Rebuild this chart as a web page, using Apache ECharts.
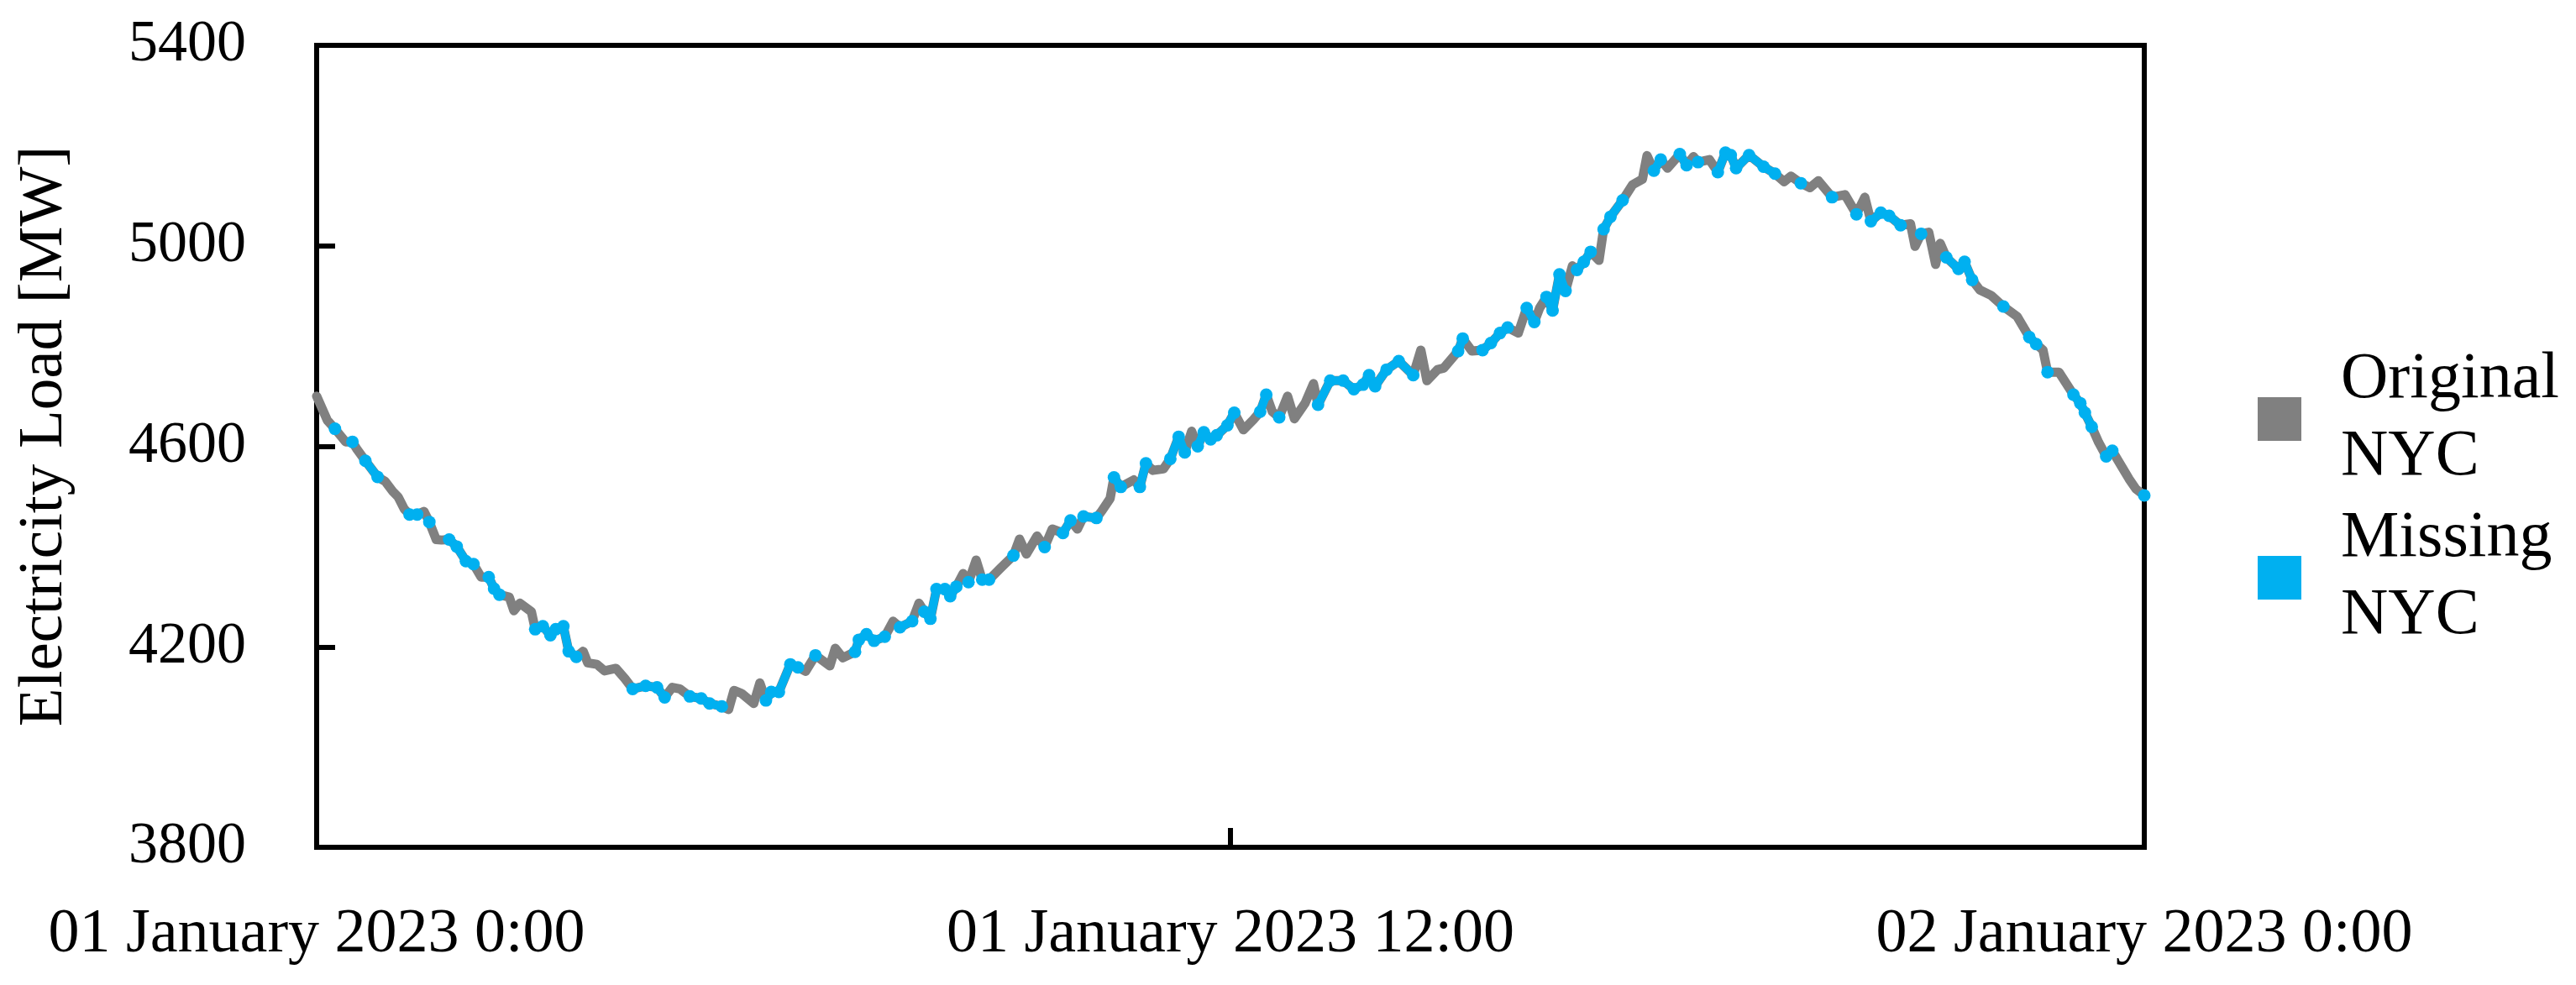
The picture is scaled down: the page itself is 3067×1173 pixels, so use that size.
<!DOCTYPE html>
<html>
<head>
<meta charset="utf-8">
<title>Electricity Load NYC</title>
<script src="https://cdn.jsdelivr.net/npm/echarts@6/dist/echarts.min.js"></script>
<style>
  html, body { margin: 0; padding: 0; background: #fff; }
  #chart { width: 3067px; height: 1173px; }
</style>
</head>
<body>
<div id="chart"></div>
<script>
// time of day in hours (0 = 01 Jan 2023 0:00)
const hours = [
  0.00,0.14,0.24,0.38,0.47,0.53,0.64,0.80,0.90,1.00,
  1.07,1.15,1.22,1.32,1.41,1.48,1.57,1.64,1.74,1.84,
  1.96,2.06,2.16,2.26,2.33,2.40,2.53,2.59,2.67,2.82,
  2.87,2.97,3.07,3.14,3.24,3.31,3.41,3.50,3.56,3.68,
  3.78,3.93,4.05,4.15,4.32,4.47,4.57,4.67,4.77,4.90,
  5.05,5.16,5.32,5.41,5.48,5.58,5.74,5.82,5.90,5.97,
  6.07,6.22,6.32,6.42,6.55,6.74,6.81,6.91,7.07,7.12,
  7.22,7.32,7.46,7.57,7.66,7.82,7.91,7.98,8.06,8.14,
  8.25,8.32,8.40,8.49,8.56,8.66,8.74,8.83,8.98,9.15,
  9.23,9.32,9.46,9.56,9.66,9.80,9.90,9.99,10.07,10.24,
  10.31,10.42,10.47,10.56,10.73,10.81,10.89,10.98,11.12,11.21,
  11.32,11.40,11.49,11.57,11.65,11.74,11.82,11.96,12.05,12.17,
  12.30,12.39,12.47,12.55,12.64,12.75,12.84,12.98,13.09,13.15,
  13.31,13.48,13.62,13.74,13.82,13.90,14.05,14.21,14.40,14.50,
  14.58,14.72,14.80,14.99,15.05,15.17,15.31,15.42,15.54,15.64,
  15.78,15.89,15.99,16.06,16.15,16.23,16.32,16.40,16.49,16.55,
  16.64,16.73,16.84,16.90,16.99,17.15,17.28,17.41,17.47,17.56,
  17.65,17.74,17.90,17.99,18.08,18.14,18.29,18.40,18.50,18.57,
  18.64,18.81,19.00,19.15,19.27,19.36,19.49,19.61,19.72,19.90,
  20.07,20.22,20.33,20.41,20.54,20.65,20.80,20.93,20.99,21.07,
  21.17,21.26,21.32,21.40,21.56,21.64,21.74,21.84,21.99,22.15,
  22.33,22.49,22.58,22.67,22.73,22.88,23.07,23.16,23.22,23.31,
  23.40,23.50,23.58,23.71,23.80,23.89,24.00
]

// Original NYC load [MW]
const originalLoad = [
  4700,4652,4635,4609,4609,4594,4571,4539,4530,4510,
  4499,4475,4464,4464,4470,4449,4414,4413,4414,4400,
  4371,4365,4339,4339,4316,4304,4299,4272,4287,4270,
  4235,4241,4223,4235,4241,4191,4180,4191,4168,4165,
  4152,4157,4136,4116,4122,4119,4099,4119,4116,4101,
  4097,4087,4081,4075,4113,4107,4087,4128,4093,4110,
  4110,4165,4159,4151,4183,4162,4197,4178,4190,4214,
  4225,4212,4220,4251,4239,4251,4287,4270,4256,4315,
  4315,4301,4320,4346,4329,4373,4334,4334,4357,4382,
  4415,4385,4421,4399,4435,4427,4452,4435,4460,4457,
  4471,4496,4538,4519,4533,4519,4566,4552,4555,4575,
  4619,4588,4630,4600,4628,4614,4622,4642,4667,4633,
  4653,4669,4703,4669,4658,4700,4655,4686,4725,4683,
  4731,4731,4714,4723,4742,4720,4753,4770,4742,4792,
  4731,4753,4756,4790,4815,4790,4792,4806,4826,4837,
  4826,4876,4848,4876,4898,4871,4943,4910,4960,4952,
  4968,4988,4971,5033,5058,5091,5122,5133,5180,5150,
  5172,5155,5183,5161,5178,5167,5172,5147,5186,5181,
  5155,5181,5158,5144,5128,5139,5125,5116,5130,5097,
  5102,5063,5097,5049,5066,5060,5041,5044,4999,5024,
  5027,4963,5005,4977,4954,4968,4932,4912,4901,4879,
  4859,4818,4804,4792,4748,4748,4703,4686,4667,4639,
  4608,4580,4591,4558,4535,4515,4502
]

// 1 = value was missing (drawn in blue)
const missingFlags = [
  0,0,1,0,1,0,1,1,0,0,
  0,0,1,1,0,1,0,0,1,1,
  1,1,0,1,1,1,0,0,0,0,
  1,1,1,1,1,1,1,0,0,0,
  0,0,0,1,1,1,1,0,0,1,
  1,1,1,0,0,0,0,0,1,1,
  1,1,1,0,1,0,0,0,1,1,
  1,1,1,0,1,1,0,1,1,1,
  1,1,1,0,1,0,1,1,0,1,
  0,0,0,1,0,1,1,0,1,1,
  0,0,1,1,0,1,1,0,0,1,
  1,1,0,1,1,1,1,1,1,0,
  0,1,1,0,1,0,0,0,0,1,
  1,1,1,1,1,1,1,1,1,0,
  0,0,0,1,1,0,1,1,1,1,
  0,1,1,0,1,1,1,1,0,1,
  1,1,0,1,1,1,0,0,0,1,
  1,0,1,1,0,1,0,1,1,1,
  1,1,1,1,0,0,1,0,0,1,
  0,1,0,1,1,1,1,0,0,1,
  0,0,0,1,1,1,1,0,0,1,
  0,1,1,0,1,0,1,1,1,1,
  0,1,1,0,0,0,1
]

const xTickLabels = ['01 January 2023 0:00', '01 January 2023 12:00', '02 January 2023 0:00']
const seriesNames = ['Original NYC', 'Missing NYC']

const FONT = 'Liberation Serif'
const GRAY = '#808080'
const BLUE = '#00B0F0'

const originalData = hours.map((h, i) => [h, originalLoad[i]])
const missingData = hours.map((h, i) => [h, missingFlags[i] ? originalLoad[i] : null])

const chart = echarts.init(document.getElementById('chart'))
const option = {
  animation: false,
  backgroundColor: '#fff',
  grid: {
    left: 377,
    right: 514,
    top: 54,
    bottom: 164,
    show: true,
    borderColor: '#000',
    borderWidth: 6
  },
  legend: {
    orient: 'vertical',
    left: 2683,
    top: 402,
    icon: 'rect',
    itemWidth: 52,
    itemHeight: 52,
    itemGap: 5,
    data: seriesNames,
    formatter: name => name.replace(' ', '\n'),
    textStyle: {
      fontFamily: FONT,
      fontSize: 78,
      lineHeight: 92,
      color: '#000',
      padding: [0, 0, 0, 42]
    }
  },
  xAxis: {
    type: 'value',
    min: 0,
    max: 24,
    interval: 12,
    axisLine: { show: true, lineStyle: { color: '#000', width: 6 } },
    axisTick: { show: true, inside: true, length: 23, lineStyle: { color: '#000', width: 6 } },
    splitLine: { show: false },
    axisLabel: {
      margin: 68,
      fontFamily: FONT,
      fontSize: 74,
      color: '#000',
      formatter: v => xTickLabels[Math.round(v / 12)]
    }
  },
  yAxis: {
    type: 'value',
    min: 3800,
    max: 5400,
    interval: 400,
    name: 'Electricity Load [MW]',
    nameLocation: 'middle',
    nameGap: 286,
    nameTextStyle: { fontFamily: FONT, fontSize: 75, color: '#000', padding: [0, 0, 0, 24] },
    axisLine: { show: true, lineStyle: { color: '#000', width: 6 } },
    axisTick: { show: true, inside: true, length: 22, lineStyle: { color: '#000', width: 6 } },
    splitLine: { show: false },
    axisLabel: {
      margin: 84,
      fontFamily: FONT,
      fontSize: 70,
      color: '#000',
      formatter: v => String(v)
    }
  },
  series: [
    {
      name: seriesNames[0],
      type: 'line',
      data: originalData,
      showSymbol: false,
      symbol: 'none',
      lineStyle: { color: GRAY, width: 11, cap: 'round', join: 'round' },
      itemStyle: { color: GRAY },
      z: 2
    },
    {
      name: seriesNames[1],
      type: 'line',
      data: missingData,
      connectNulls: false,
      symbol: 'circle',
      symbolSize: 15,
      showSymbol: true,
      showAllSymbol: true,
      lineStyle: { color: BLUE, width: 10, cap: 'round', join: 'round' },
      itemStyle: { color: BLUE },
      z: 3
    }
  ]
}
chart.setOption(option)
</script>
</body>
</html>
